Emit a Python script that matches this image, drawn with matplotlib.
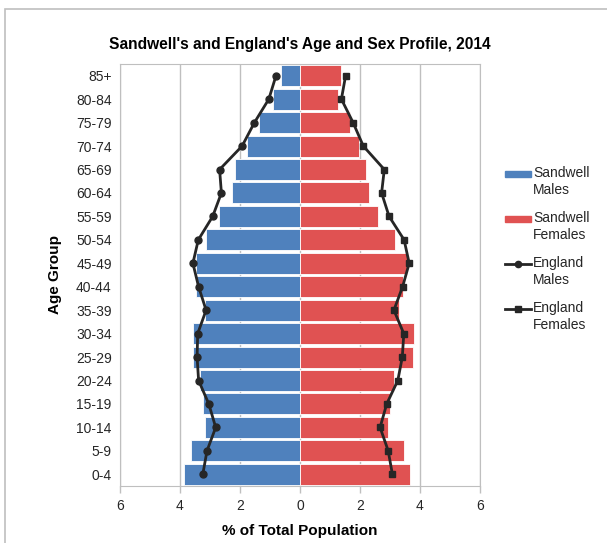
import matplotlib.pyplot as plt
import numpy as np
from matplotlib.lines import Line2D
from matplotlib.patches import Rectangle

plt.rcParams['font.family'] = ['Liberation Sans', 'DejaVu Sans']

# age groups, youngest first
age_groups = ['0-4', '5-9', '10-14', '15-19', '20-24', '25-29', '30-34', '35-39',
              '40-44', '45-49', '50-54', '55-59', '60-64', '65-69', '70-74',
              '75-79', '80-84', '85+']
# % of total population
sandwell_males = [3.88, 3.62, 3.17, 3.24, 3.33, 3.56, 3.56, 3.17, 3.48,
                  3.48, 3.14, 2.70, 2.27, 2.16, 1.76, 1.37, 0.91, 0.64]
sandwell_females = [3.68, 3.47, 2.92, 3.00, 3.14, 3.76, 3.81, 3.29, 3.43,
                    3.56, 3.18, 2.59, 2.29, 2.21, 1.96, 1.66, 1.27, 1.37]
england_males = [3.24, 3.10, 2.81, 3.04, 3.38, 3.43, 3.41, 3.13, 3.38,
                 3.57, 3.39, 2.91, 2.62, 2.68, 1.93, 1.52, 1.04, 0.80]
england_females = [3.08, 2.94, 2.67, 2.89, 3.26, 3.41, 3.46, 3.13, 3.42,
                   3.64, 3.47, 2.97, 2.72, 2.81, 2.11, 1.77, 1.38, 1.52]

legend_labels = ['Sandwell\nMales', 'Sandwell\nFemales', 'England\nMales',
                 'England\nFemales']

blue = '#4F81BD'
red = '#E05252'
line_col = '#262626'

W, H = 607, 543
fig = plt.figure(figsize=(W / 100, H / 100), dpi=100)
# outer chart border
fig.patches.append(Rectangle((5 / W, -0.01), 1.02, 1 - 9 / H + 0.01,
                             transform=fig.transFigure, fill=False,
                             edgecolor='#BFBFBF', lw=1.2))

ax = fig.add_axes([120 / W, (H - 486) / H, 360 / W, 422 / H])
y = np.arange(len(age_groups))

ax.barh(y, -np.array(sandwell_males), height=0.9, color=blue,
        edgecolor='white', lw=0.6, zorder=2)
ax.barh(y, sandwell_females, height=0.9, color=red,
        edgecolor='white', lw=0.6, zorder=2)
ax.plot(-np.array(england_males), y, color=line_col, lw=2, marker='o',
        ms=5, zorder=3)
ax.plot(england_females, y, color=line_col, lw=2, marker='s',
        ms=5, zorder=3)

ax.set_xlim(-6, 6)
ax.set_ylim(-0.5, len(age_groups) - 0.5)
ax.set_xticks([-6, -4, -2, 0, 2, 4, 6])
ax.set_xticklabels(['6', '4', '2', '0', '2', '4', '6'])
ax.set_yticks(y)
ax.set_yticklabels(age_groups)
ax.tick_params(labelsize=10, labelcolor='#262626', length=0, pad=6)
ax.tick_params(axis='x', length=5, color='#BFBFBF', width=1, pad=4)
ax.grid(axis='x', color='#BFBFBF', lw=1, zorder=0)
ax.set_axisbelow(True)
for s in ax.spines.values():
    s.set_color('#BFBFBF')

ax.set_xlabel('% of Total Population', fontsize=11, fontweight='bold',
              labelpad=8)
ax.set_ylabel('Age Group', fontsize=11, fontweight='bold', labelpad=10)
fig.text(300 / W, 1 - 45 / H,
         "Sandwell's and England's Age and Sex Profile, 2014",
         ha='center', va='center', fontsize=11.2, fontweight='bold')

# legend drawn by hand so each key sits on the first text line, as in Excel
for i, lab in enumerate(legend_labels):
    yy = 1 - (174 + 45 * i) / H
    if i < 2:
        fig.patches.append(Rectangle((505 / W, yy - 3 / H), 26 / W, 6 / H,
                                     transform=fig.transFigure,
                                     color=[blue, red][i]))
    else:
        fig.lines.append(Line2D([505 / W, 531 / W], [yy, yy],
                                transform=fig.transFigure, color=line_col,
                                lw=2))
        fig.lines.append(Line2D([518 / W], [yy], transform=fig.transFigure,
                                color=line_col, marker=['o', 's'][i - 2],
                                ms=4.5, ls='none'))
    fig.text(533 / W, yy + 8 / H, lab, ha='left', va='top', fontsize=10,
             color='#262626', linespacing=1.25)

fig.savefig('out.png', dpi=100)
